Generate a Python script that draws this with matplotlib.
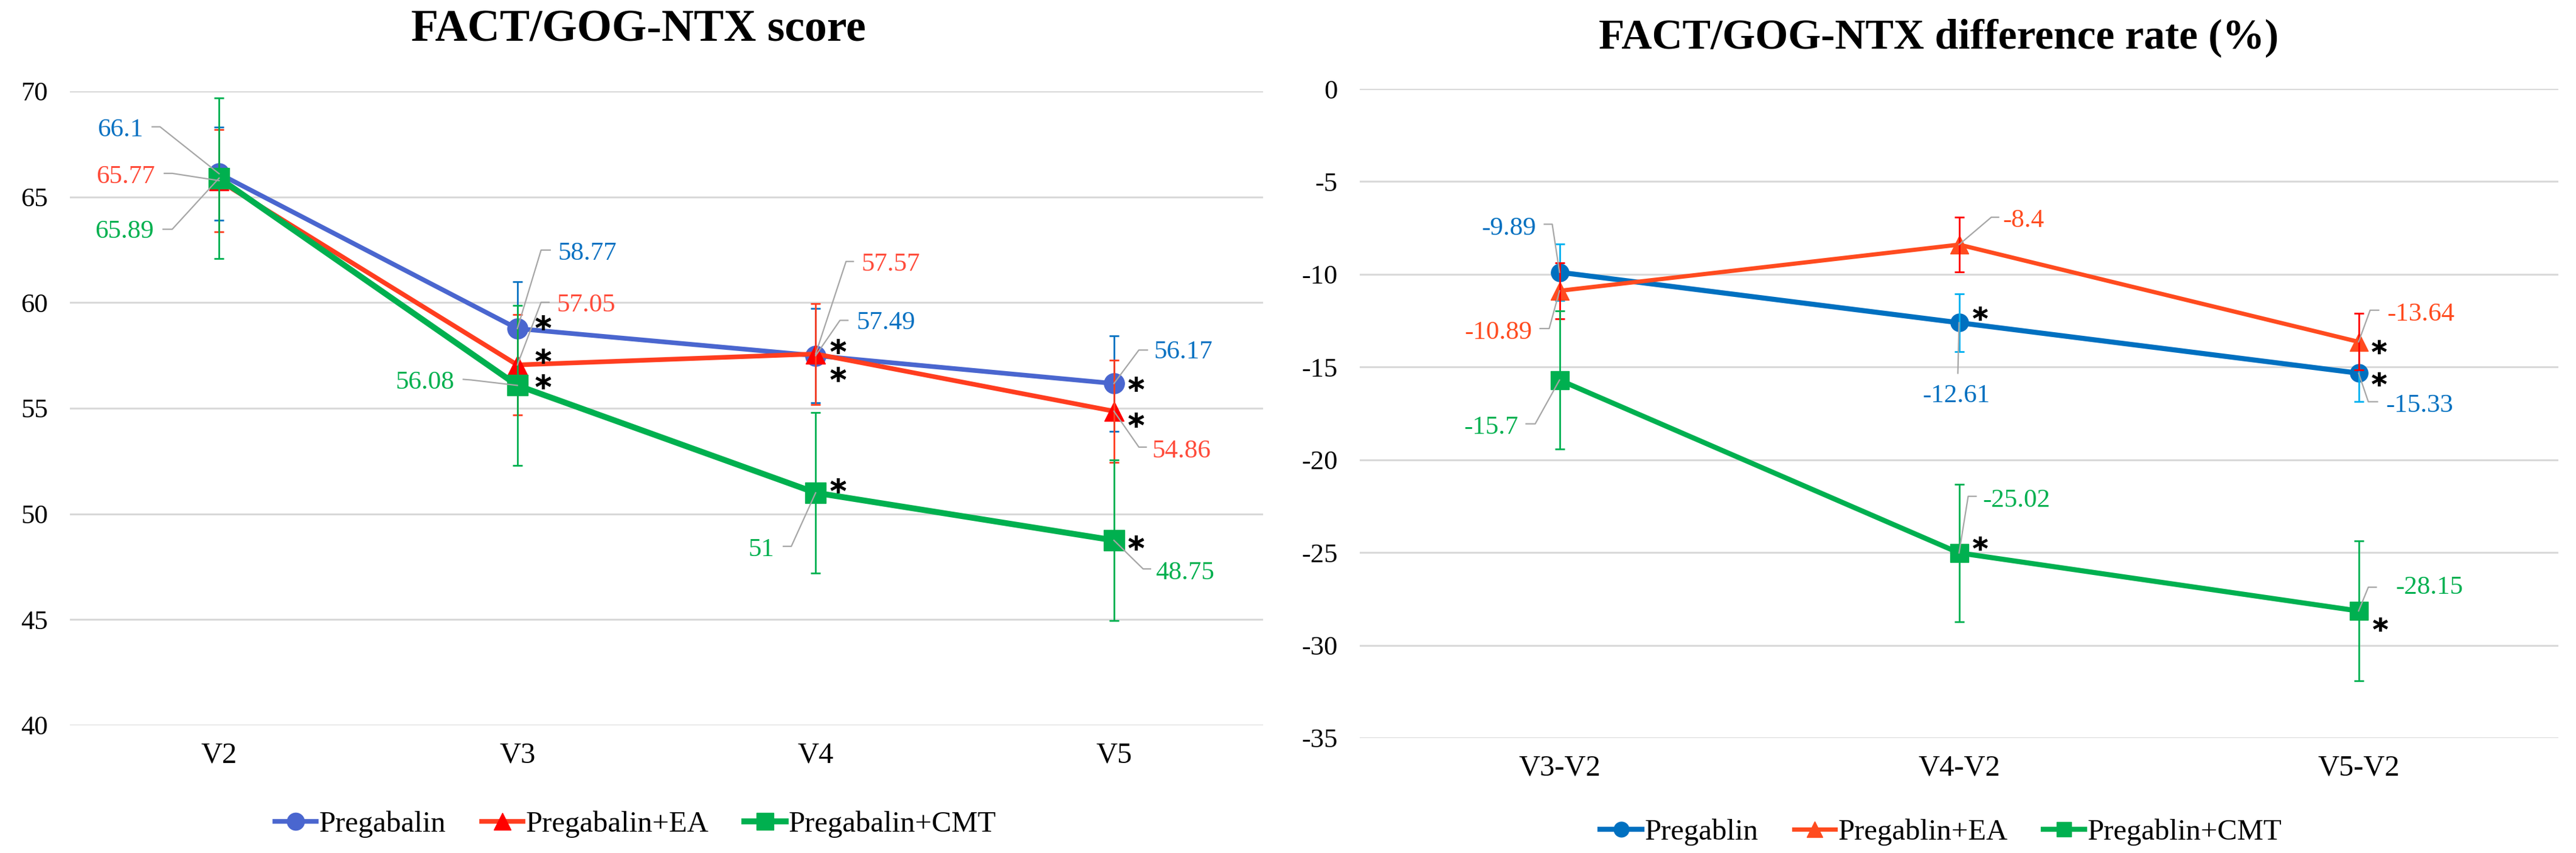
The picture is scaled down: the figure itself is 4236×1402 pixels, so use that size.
import matplotlib
matplotlib.use('Agg')
import matplotlib.pyplot as plt
from matplotlib.lines import Line2D

plt.rcParams['font.family'] = ['Liberation Serif', 'DejaVu Serif']
plt.rcParams['axes.unicode_minus'] = False

# ---- left chart: FACT/GOG-NTX score ----
visits = ['V2', 'V3', 'V4', 'V5']
score_pregabalin = [66.1, 58.77, 57.49, 56.17]
score_ea = [65.77, 57.05, 57.57, 54.86]
score_cmt = [65.89, 56.08, 51, 48.75]
score_err_pregabalin = [2.2, 2.22, 2.22, 2.25]
score_err_ea = [2.41, 2.38, 2.39, 2.42]
score_err_cmt = [3.8, 3.8, 3.8, 3.8]
score_names = ['Pregabalin', 'Pregabalin+EA', 'Pregabalin+CMT']

# ---- right chart: difference rate (%) ----
diffs = ['V3-V2', 'V4-V2', 'V5-V2']
rate_pregablin = [-9.89, -12.61, -15.33]
rate_ea = [-10.89, -8.4, -13.64]
rate_cmt = [-15.7, -25.02, -28.15]
rate_err_pregablin = [1.53, 1.57, 1.53]
rate_err_ea = [1.52, 1.48, 1.52]
rate_err_cmt = [3.72, 3.7, 3.77]
rate_names = ['Pregablin', 'Pregablin+EA', 'Pregablin+CMT']

# data label placement: (index, text dx, text dy, ha, leader vertices) in pixels, y up
left_label_pos = [
    [(0, -125, 75, 'right', [(-110, 77), (-97, 77)]),
     (1, 67, 127, 'left', [(54, 129), (39, 129)]),
     (2, 67, 58, 'left', [(53, 58), (40, 58)]),
     (3, 66, 55, 'left', [(55, 55), (41, 55)])],
    [(0, -105, 10, 'right', [(-90, 12), (-77, 12)]),
     (1, 65, 102, 'left', [(52, 103), (39, 103)]),
     (2, 75, 151, 'left', [(62, 152), (50, 152)]),
     (3, 63, -62, 'left', [(53, -59), (41, -59)])],
    [(0, -107, -84, 'right', [(-92, -84), (-77, -84)]),
     (1, -104, 8, 'right', [(-89, 10), (-76, 9)]),
     (2, -68, -90, 'right', [(-53, -88), (-40, -88)]),
     (3, 68, -50, 'left', [(60, -47), (48, -47)])],
]
right_label_pos = [
    [(0, -38, 76, 'right', [(-25, 79), (-12, 79)]),
     (1, -5, -117, 'center', [(-2, -83)]),
     (2, 45, -50, 'left', [(31, -47), (16, -47)])],
    [(0, -45, -65, 'right', [(-32, -62), (-17, -62)]),
     (1, 72, 43, 'left', [(65, 45), (53, 45)]),
     (2, 47, 49, 'left', [(33, 52), (19, 52)])],
    [(0, -68, -74, 'right', [(-55, -72), (-40, -72)]),
     (1, 39, 90, 'left', [(28, 93), (15, 93)]),
     (2, 61, 42, 'left', [(29, 39), (16, 39)])],
]
# significance asterisks: (index, dx, dy) in pixels
left_stars = [
    [(1, 42, 10), (2, 37, 16), (3, 36, -1)],
    [(1, 42, 15), (2, 37, -33), (3, 36, -14)],
    [(1, 42, 6), (2, 37, 12), (3, 36, -4)],
]
right_stars = [
    [(1, 34, 15), (2, 33, -10)],
    [(2, 33, -8)],
    [(1, 34, 16), (2, 35, -22)],
]

W, H = 4236, 1402
fig = plt.figure(figsize=(W / 100, H / 100), dpi=100)
ax1 = fig.add_axes([115 / W, 1 - 1192 / H, 1962 / W, 1042 / H])
ax2 = fig.add_axes([2236 / W, 1 - 1213 / H, 1971 / W, 1067 / H])

left_style = [
    dict(color='#4A66CF', ecolor='#0A72C2', lw=5.5, marker='o', ms=24, mfc='#4A66CF', label_color='#0A72C2'),
    dict(color='#FF3D1F', ecolor='#FF3D1F', lw=5.5, marker='^', ms=23, mfc='#FF0000', label_color='#FF4B3A'),
    dict(color='#00B04F', ecolor='#00B04F', lw=7, marker='s', ms=24, mfc='#00B04F', label_color='#00B04F'),
]
right_style = [
    dict(color='#0070C0', ecolor='#00B0F0', lw=6, marker='o', ms=21, mfc='#0070C0', label_color='#0070C0'),
    dict(color='#FF4B1F', ecolor='#FF0000', lw=5, marker='^', ms=22, mfc='#FF4B1F', label_color='#FF4B1F'),
    dict(color='#00B050', ecolor='#00B050', lw=6, marker='s', ms=21, mfc='#00B050', label_color='#00B050'),
]


def draw_panel(ax, cats, series, errs, styles, labels, stars, ylim, yticks, star_ms):
    x = list(range(len(cats)))
    ax.set_xlim(-0.5, len(cats) - 0.5)
    ax.set_ylim(*ylim)
    ax.set_yticks(yticks)
    ax.set_xticks(x)
    ax.set_xticklabels(cats)
    for s in ax.spines.values():
        s.set_visible(False)
    ax.yaxis.grid(True, color='#D9D9D9', lw=2.2)
    ax.set_axisbelow(True)
    ax.tick_params(axis='y', length=0, labelsize=32, pad=26)
    ax.tick_params(axis='x', length=0, labelsize=35, pad=20)

    bbox = ax.get_window_extent()
    sx = bbox.width / (len(cats))
    sy = bbox.height / (ylim[1] - ylim[0])

    for i, (ys, es, st) in enumerate(zip(series, errs, styles)):
        ax.plot(x, ys, color=st['color'], lw=st['lw'], marker=st['marker'], ms=st['ms'],
                mfc=st['mfc'], mec=st['mfc'], zorder=3 + i * 0.1)
        ax.errorbar(x, ys, yerr=es, fmt='none', ecolor=st['ecolor'], elinewidth=2,
                    capsize=5.5, capthick=2, zorder=3.05 + i * 0.1)
        for idx, tdx, tdy, ha, lead in labels[i]:
            px, py = x[idx], ys[idx]
            ax.annotate(f'{ys[idx]:g}', (px, py), xytext=(tdx, tdy - 14), textcoords='offset pixels',
                        ha=ha, va='baseline', fontsize=31, color=st['label_color'], zorder=6)
            lx = [px + dx / sx for dx, dy in lead] + [px]
            ly = [py + dy / sy for dx, dy in lead] + [py]
            ax.plot(lx, ly, color='#A6A6A6', lw=1.6, zorder=5)
        for idx, dx, dy in stars[i]:
            ax.plot(x[idx] + dx / sx, ys[idx] + dy / sy, marker=r'$\mathbf{*}$', ms=star_ms,
                    color='black', mec='black', mew=0.6, zorder=7)


draw_panel(ax1, visits, [score_pregabalin, score_ea, score_cmt],
           [score_err_pregabalin, score_err_ea, score_err_cmt],
           left_style, left_label_pos, left_stars, (40, 70), range(40, 71, 5), 18)
draw_panel(ax2, diffs, [rate_pregablin, rate_ea, rate_cmt],
           [rate_err_pregablin, rate_err_ea, rate_err_cmt],
           right_style, right_label_pos, right_stars, (-35, 0), range(-35, 1, 5), 17)

fig.text(1050 / W, 1 - 50 / H, 'FACT/GOG-NTX score', ha='center', va='center',
         fontsize=53, fontweight='bold')
fig.text(3188 / W, 1 - 62 / H, 'FACT/GOG-NTX difference rate (%)', ha='center', va='center',
         fontsize=50, fontweight='bold')


def legend_handles(styles):
    return [Line2D([], [], color=st['color'], lw=st['lw'], marker=st['marker'], ms=st['ms'],
                   mfc=st['mfc'], mec=st['mfc']) for st in styles]


fig.legend(legend_handles(left_style), score_names, loc='center', bbox_to_anchor=(1045 / W, 1 - 1355 / H),
           ncol=3, frameon=False, fontsize=35, handlelength=1.4, handletextpad=0.1,
           columnspacing=1.2, markerscale=0.85)
fig.legend(legend_handles(right_style), rate_names, loc='center', bbox_to_anchor=(3192 / W, 1 - 1368 / H),
           ncol=3, frameon=False, fontsize=35, handlelength=1.4, handletextpad=0.1,
           columnspacing=1.2, markerscale=0.85)

fig.savefig('out.png', dpi=100, facecolor='white')
